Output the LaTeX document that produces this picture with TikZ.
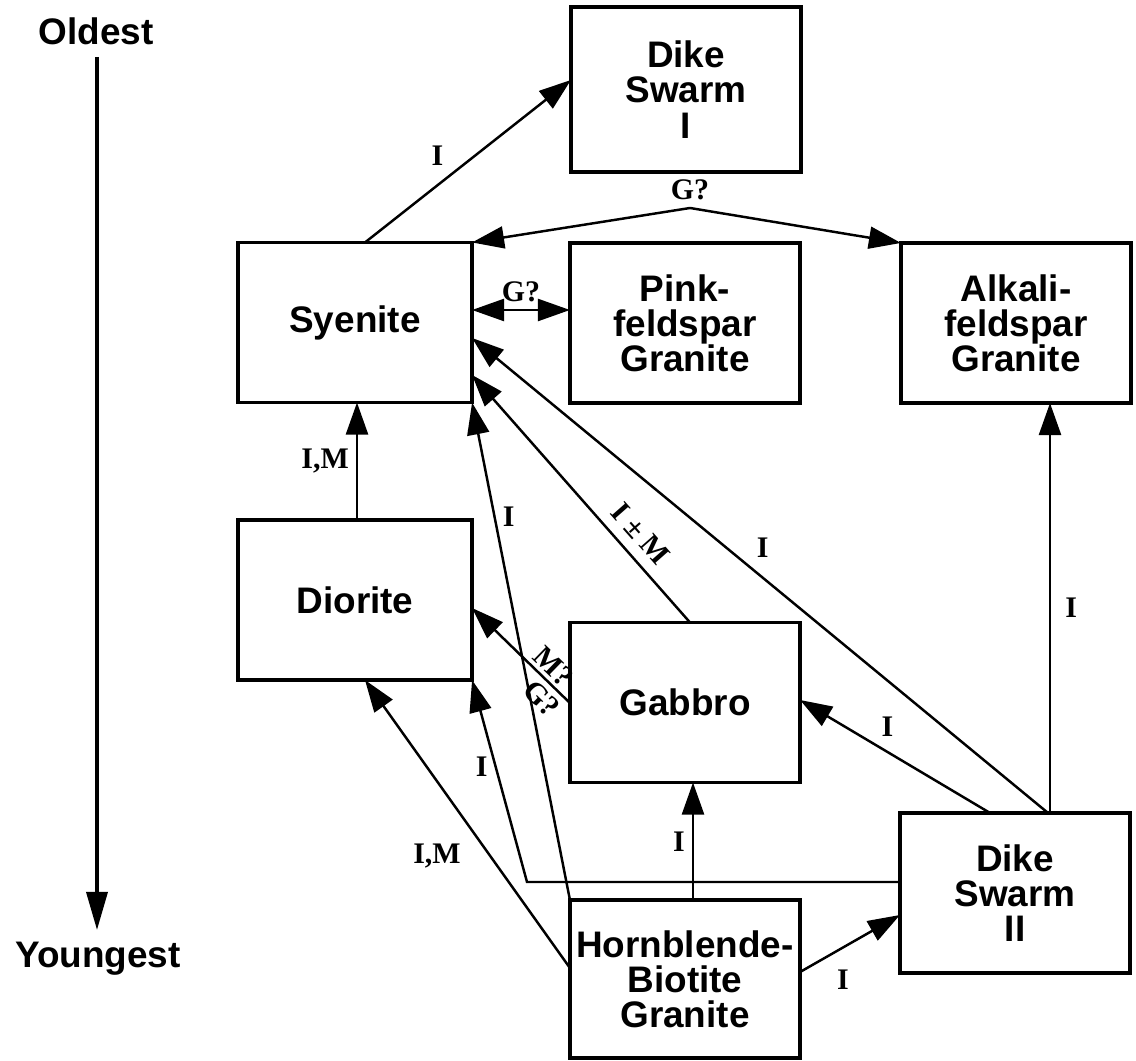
\documentclass[tikz,border=0pt]{standalone}
\usepackage{fontspec}
\setmainfont{Liberation Sans}
\newfontfamily\labelfont{Liberation Serif}
\usetikzlibrary{arrows.meta}

\tikzset{
  >={Triangle[length=3.2mm,width=2.2mm]},
  unit/.style={draw, line width=0.9pt, minimum width=2.3cm, minimum height=1.6cm,
    align=center, inner sep=0pt, outer sep=0pt, font=\bfseries\fontsize{10.5}{10}\selectfont},
  side/.style={font=\bfseries\fontsize{10.5}{10}\selectfont},
  link/.style={line width=0.7pt, ->},
  timeline/.style={line width=1pt, -{Triangle[length=3.8mm,width=2.1mm]}},
  tag/.style={font={\labelfont\bfseries\fontsize{8.5}{9}\selectfont}, inner sep=2pt},
}

\begin{document}
\begin{tikzpicture}[x=0.01cm,y=-0.01cm]
  \useasboundingbox (0,0) rectangle (1136,1061);
  % time axis
  \node[side] (old) at (96,31) {Oldest};
  \node[side] (young) at (98,959) {Youngest};
  \draw[timeline] (old.south -| 97,0) -- (young.north -| 97,0);
  % rock units
  \node[unit, minimum height=1.65cm] (dk1) at (686,89.5) {Dike\\Swarm\\I};
  \node[unit, minimum width=2.34cm] (syen) at (355,322.5) {Syenite};
  \node[unit] (pink) at (685,323) {Pink-\\feldspar\\Granite};
  \node[unit] (alk) at (1016,323) {Alkali-\\feldspar\\Granite};
  \node[unit, minimum width=2.34cm] (dio) at (355,600) {Diorite};
  \node[unit] (gab) at (685,702.5) {Gabbro};
  \node[unit] (dk2) at (1015,893) {Dike\\Swarm\\II};
  \node[unit, minimum height=1.58cm] (hbg) at (685,979) {Hornblende-\\Biotite\\Granite};
  % relations
  \draw[link] (syen.north -| 365,0) -- (dk1.west |- 0,80) node[tag, pos=0.42, above left] (r1) {I};
  \coordinate (apex) at (690,208);
  \draw[link] (apex) -- (syen.north east);
  \draw[link] (apex) -- (alk.north west);
  \node[tag, anchor=south] (r2) at (apex) {G?};
  \draw[link, <->] (syen.east |- 0,310) -- (pink.west |- 0,310) node[tag, midway, above] (r3) {G?};
  \draw[link] (dio.north -| 357,0) -- (syen.south -| 357,0) node[tag, midway, left] (r4) {I,M};
  \draw[link] (gab.north -| 690,0) -- (syen.east |- 0,375) node[tag, pos=0.3, sloped, above=2pt, inner sep=1pt] (r5) {I ± M};
  \draw[link] (dk2.north -| 1048,0) -- (syen.east |- 0,338) node[tag, pos=0.52, above right] (r6) {I};
  \draw[link] (hbg.north west) -- (syen.south east) node[tag, pos=0.77, right] (r7) {I};
  \draw[link] (gab.west |- 0,703) -- (dio.east |- 0,608)
    node[tag, pos=0.27, sloped, above, inner sep=1pt] (r8) {M?}
    node[tag, pos=0.17, sloped, below, inner sep=1.5pt] (r9) {G?};
  \draw[link] (hbg.north -| 693,0) -- (gab.south -| 693,0) node[tag, midway, left] (r10) {I};
  \draw[link] (hbg.west |- 0,968) -- (dio.south -| 365,0) node[tag, pos=0.39, left=6pt] (r11) {I,M};
  \coordinate (elbow) at (527,882);
  \draw[link] (dk2.west |- 0,882) -- (elbow) -- (dio.south east) node[tag, pos=0.57, left] (r12) {I};
  \draw[link] (dk2.north -| 990,0) -- (gab.east |- 0,700) node[tag, pos=0.54, above=2pt] (r13) {I};
  \draw[link] (dk2.north -| 1050,0) -- (alk.south -| 1050,0) node[tag, midway, right=2pt] (r14) {I};
  \draw[link] (hbg.east |- 0,972) -- (dk2.west |- 0,915) node[tag, pos=0.43, below=4pt] (r15) {I};
\end{tikzpicture}
\end{document}
